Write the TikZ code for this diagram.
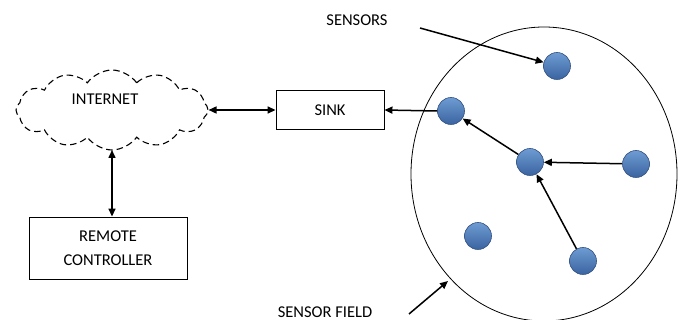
\documentclass[tikz,border=0pt]{standalone}
\usepackage{fontspec}
\setmainfont{Carlito}
\usetikzlibrary{shapes.symbols,shapes.geometric,arrows.meta}
\definecolor{sensortop}{RGB}{110,155,210}
\definecolor{sensorbot}{RGB}{58,100,160}
\definecolor{sensoredge}{RGB}{50,80,130}
\begin{document}
\begin{tikzpicture}[x=1pt,y=-1pt,
  every node/.style={font=\fontsize{16.5}{19}\selectfont},
  box/.style={draw, line width=0.9pt, align=center, inner sep=0pt},
  sensor/.style={circle, minimum size=27pt, inner sep=0pt, draw=sensoredge, line width=0.6pt,
     top color=sensortop, bottom color=sensorbot},
  conn/.style={line width=1.5pt, -{Triangle[length=8pt,width=7pt]}},
  dconn/.style={line width=1.5pt, {Triangle[length=8pt,width=7pt]}-{Triangle[length=8pt,width=7pt]}}]
\useasboundingbox (0,0) rectangle (681,320);
% sensor field
\node[draw, ellipse, line width=0.8pt, minimum width=266pt, minimum height=294pt, inner sep=0pt] (field) at (544,174) {};
% cloud
\node[cloud, draw, dashed, dash pattern=on 6.5pt off 4pt, line width=1.1pt, cloud puffs=12, cloud puff arc=110,
  minimum width=192pt, minimum height=80pt, inner sep=0pt] (inet) at (112,110) {};
\node (inettext) at (105,99) {INTERNET};
\node[box, minimum width=108pt, minimum height=39pt] (sink) at (330,110) {SINK};
\node[box, minimum width=158pt, minimum height=62pt] (rc) at (108,248) {REMOTE\\[5pt]CONTROLLER};
% sensors
\node[sensor] (s1) at (557,66) {};
\node[sensor] (s2) at (451,111) {};
\node[sensor] (s3) at (530,162) {};
\node[sensor] (s4) at (636,164) {};
\node[sensor] (s5) at (478,236) {};
\node[sensor] (s6) at (583,261) {};
% labels
\node (lsens) at (357,20) {SENSORS};
\node (lfield) at (325,312) {SENSOR FIELD};
\coordinate (a1) at (420,28);
\coordinate (a2) at (409,314);
\coordinate (a3) at (448,281);
\coordinate (cb) at (112,150);
% connectors
\draw[dconn] (inet.east |- sink) -- (sink.west);
\draw[dconn] (cb) -- (rc.north -| cb);
\draw[conn] (s2.west) -- (sink.east);
\draw[conn] (s3) -- (s2);
\draw[conn] (s4) -- (s3);
\draw[conn] (s6) -- (s3);
\draw[conn] (a1) -- (s1);
\draw[conn] (a2) -- (a3);
\end{tikzpicture}
\end{document}
